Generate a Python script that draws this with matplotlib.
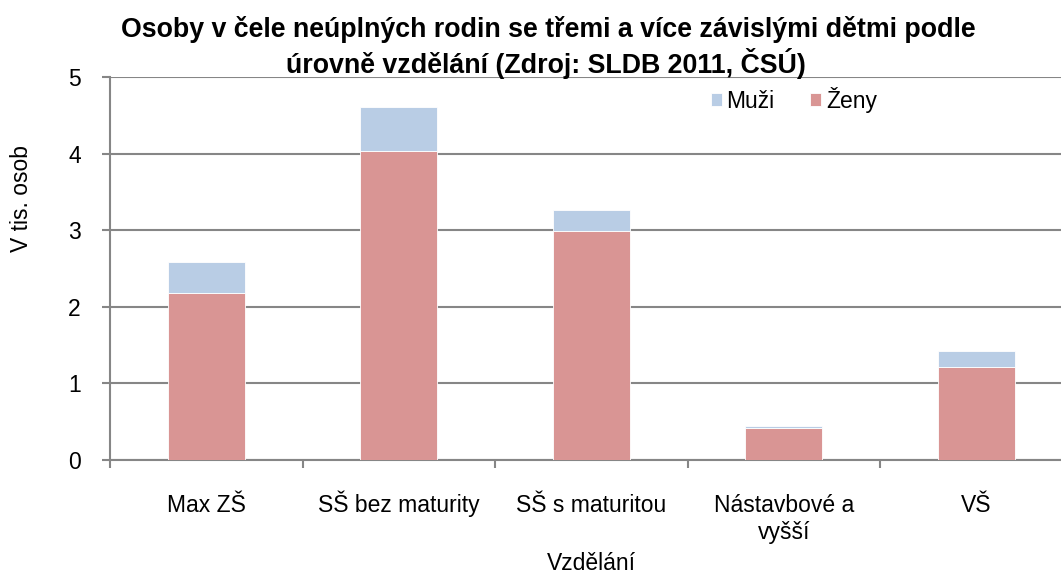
import numpy as np
import matplotlib.pyplot as plt
from matplotlib.ticker import FixedLocator
from matplotlib.transforms import blended_transform_factory

plt.rcParams['font.family'] = ['Liberation Sans', 'DejaVu Sans']

# Data (thousands of persons)
categories = ["Max ZŠ", "SŠ bez maturity", "SŠ s maturitou", "Nástavbové a\nvyšší", "VŠ"]
zeny = [2.18, 4.03, 2.99, 0.42, 1.21]
muzi = [0.40, 0.58, 0.27, 0.03, 0.21]

title_lines = ["Osoby v čele neúplných rodin se třemi a více závislými dětmi podle",
               "úrovně vzdělání (Zdroj: SLDB 2011, ČSÚ)"]

c_zeny = "#D99594"
c_muzi = "#B9CDE5"
grid_c = "#868686"
fs = 16.5

fig = plt.figure(figsize=(10.61, 5.74), dpi=100)
ax = fig.add_axes([110 / 1061, 1 - 460 / 574, 962.5 / 1061, 383 / 574])

x = np.arange(len(categories))
ax.bar(x, zeny, width=0.4, color=c_zeny, edgecolor="white", linewidth=0.6, label="Ženy", zorder=3)
ax.bar(x, muzi, width=0.4, bottom=zeny, color=c_muzi, edgecolor="white", linewidth=0.6, label="Muži", zorder=3)

ax.set_xlim(-0.5, len(categories) - 0.5)
ax.set_ylim(0, 5)
ax.set_yticks(range(0, 6))
ax.yaxis.grid(True, color=grid_c, linewidth=1.5, zorder=0)

for side in ["top", "right"]:
    ax.spines[side].set_visible(False)
for side in ["left", "bottom"]:
    ax.spines[side].set_color(grid_c)
    ax.spines[side].set_linewidth(1.5)

# category labels: one text per line so every first line shares a baseline
ax.set_xticks(x)
ax.set_xticklabels([])
ax.xaxis.set_minor_locator(FixedLocator(np.arange(-0.5, len(categories), 1.0)))
ax.tick_params(axis="x", which="major", length=0)
ax.tick_params(axis="x", which="minor", length=6, width=1.5, color=grid_c)
ax.tick_params(axis="y", length=6, width=1.5, color=grid_c, labelsize=fs, pad=15)

trans = blended_transform_factory(ax.transData, fig.transFigure)
for i, cat in enumerate(categories):
    for j, line in enumerate(cat.split("\n")):
        ax.text(x[i], 1 - (512 + 27 * j) / 574, line, transform=trans,
                ha="center", va="baseline", fontsize=fs, clip_on=False)

# axis titles
fig.text(591 / 1061, 1 - 570 / 574, "Vzdělání", fontsize=fs, ha="center", va="baseline")
fig.text(22 / 1061, 1 - 198 / 574, "V tis. osob", rotation=90, fontsize=fs,
         ha="center", va="center")

# two-line chart title
fig.text(548 / 1061, 1 - 37 / 574, title_lines[0], ha="center", va="baseline",
         fontsize=19.3, fontweight="bold")
fig.text(546 / 1061, 1 - 73 / 574, title_lines[1], ha="center", va="baseline",
         fontsize=19.3, fontweight="bold")

handles, labels = ax.get_legend_handles_labels()
ax.legend(handles[::-1], labels[::-1], ncol=2, loc="center left",
          bbox_to_anchor=(711 / 1061, 1 - 100 / 574), bbox_transform=fig.transFigure,
          frameon=False, fontsize=fs, handlelength=0.48, handleheight=0.48,
          handletextpad=0.2, columnspacing=1.55, borderaxespad=0, borderpad=0)

fig.savefig("out.png", dpi=100)
